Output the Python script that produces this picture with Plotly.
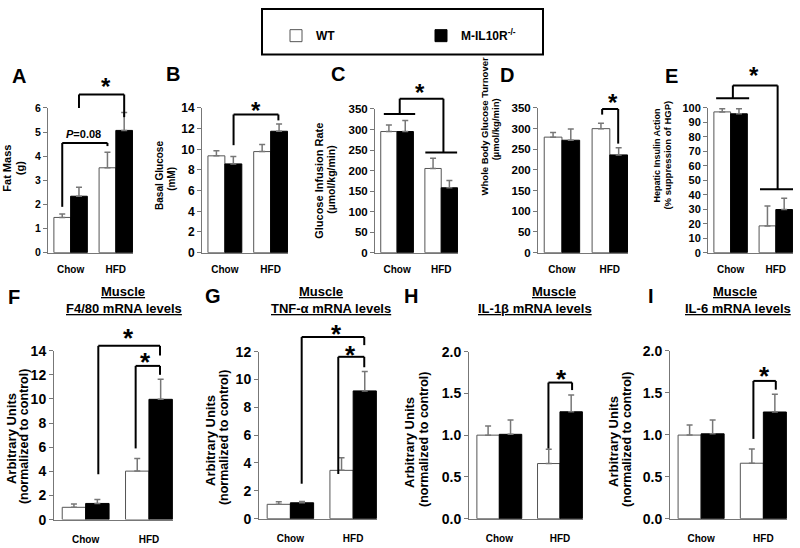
import plotly.graph_objects as go

W, H = 800, 548
FONT = "Liberation Sans, Arial, sans-serif"

groups = ["Chow", "HFD"]
wt_name = "WT"
ko_name = "M-IL10R<sup>-/-</sup>"

# A: fat mass (g)
fat_wt = [1.46, 3.52]
fat_wt_err = [0.14, 0.64]
fat_ko = [2.34, 5.07]
fat_ko_err = [0.37, 0.74]
# B: basal glucose (mM)
glu_wt = [9.37, 9.78]
glu_wt_err = [0.50, 0.69]
glu_ko = [8.59, 11.75]
glu_ko_err = [0.72, 0.69]
# C: glucose infusion rate
gir_wt = [295, 205]
gir_wt_err = [16, 25]
gir_ko = [295, 158]
gir_ko_err = [27, 18]
# D: whole body glucose turnover
wbt_wt = [279.5, 300]
wbt_wt_err = [11, 13]
wbt_ko = [272, 236.5]
wbt_ko_err = [27, 17.5]
# E: hepatic insulin action
hia_wt = [97.3, 18.5]
hia_wt_err = [2.2, 13.8]
hia_ko = [96, 29.8]
hia_ko_err = [3.5, 7.8]
# F: F4/80 mRNA
f480_wt = [1.02, 4.02]
f480_wt_err = [0.27, 1.05]
f480_ko = [1.34, 9.97]
f480_ko_err = [0.32, 1.67]
# G: TNF-a mRNA
tnf_wt = [1.03, 3.47]
tnf_wt_err = [0.18, 0.91]
tnf_ko = [1.14, 9.18]
tnf_ko_err = [0.10, 1.40]
# H: IL-1b mRNA
il1b_wt = [1.00, 0.66]
il1b_wt_err = [0.11, 0.17]
il1b_ko = [1.01, 1.28]
il1b_ko_err = [0.17, 0.20]
# I: IL-6 mRNA
il6_wt = [0.995, 0.66]
il6_wt_err = [0.12, 0.17]
il6_ko = [1.01, 1.27]
il6_ko_err = [0.165, 0.21]

XR = [-0.5, 1.38]

# key, data, ymax, dtick, fmt, box px (x0, x1, ytop, ybottom), tick font sizes
panels = [
    dict(key="A", d=(fat_wt, fat_wt_err, fat_ko, fat_ko_err), ymax=6, dtick=1, fmt="", box=(48, 133, 103, 252), ts=10.5, xs=10, so=7),
    dict(key="B", d=(glu_wt, glu_wt_err, glu_ko, glu_ko_err), ymax=14, dtick=2, fmt="", box=(202, 288, 103, 252), ts=12, xs=10, so=7),
    dict(key="C", d=(gir_wt, gir_wt_err, gir_ko, gir_ko_err), ymax=350, dtick=50, fmt="", box=(375, 458, 104, 252), ts=11.5, xs=10, so=7),
    dict(key="D", d=(wbt_wt, wbt_wt_err, wbt_ko, wbt_ko_err), ymax=350, dtick=50, fmt="", box=(538, 628, 103, 252), ts=11.5, xs=10, so=7),
    dict(key="E", d=(hia_wt, hia_wt_err, hia_ko, hia_ko_err), ymax=100, dtick=10, fmt="", box=(708, 793, 103, 252), ts=11, xs=10, so=7),
    dict(key="F", d=(f480_wt, f480_wt_err, f480_ko, f480_ko_err), ymax=14, dtick=2, fmt="", box=(54, 173, 353, 527), ts=14, xs=10, so=10),
    dict(key="G", d=(tnf_wt, tnf_wt_err, tnf_ko, tnf_ko_err), ymax=12, dtick=2, fmt="", box=(259, 377, 354, 526), ts=14, xs=10, so=10),
    dict(key="H", d=(il1b_wt, il1b_wt_err, il1b_ko, il1b_ko_err), ymax=2, dtick=0.5, fmt=".1f", box=(469, 583, 354, 526), ts=14, xs=10, so=10),
    dict(key="I", d=(il6_wt, il6_wt_err, il6_ko, il6_ko_err), ymax=2, dtick=0.5, fmt=".1f", box=(670, 787, 353, 526), ts=14, xs=10, so=10),
]
PIDX = {p["key"]: i for i, p in enumerate(panels)}

# y-axis titles: text, center px (x, y), size
ytitles = [
    ("Fat Mass", 7.5, 165, 11), ("(g)", 20, 165, 11),
    ("Basal Glucose", 160, 173, 10), ("(mM)", 172, 176, 10),
    ("Glucose Infusion Rate", 319, 178, 11), ("(µmol/kg/min)", 331, 177, 10.5),
    ("Whole Body Glucose Turnover", 484, 122, 9.5), ("(µmol/kg/min)", 495, 125, 9.5),
    ("Hepatic Insulin Action", 657, 152, 9), ("(% suppression of HGP)", 668, 152, 9.5),
    ("Arbitrary Units", 11, 444, 13), ("(normalized to control)", 24, 442, 12.5),
    ("Arbitrary Units", 211, 446, 13), ("(normalized to control)", 224, 443, 12.5),
    ("Arbitrary Units", 410, 447, 13), ("(normalized to control)", 424, 445, 12.5),
    ("Arbitrary Units", 614, 447, 13), ("(normalized to control)", 627, 445, 12.5),
]
# panel letters
letters = [("A", 18.5, 70), ("B", 173, 68), ("C", 338, 68), ("D", 507, 69), ("E", 671, 70),
           ("F", 14, 298), ("G", 213, 297), ("H", 411, 297), ("I", 651, 297)]
# bottom-row titles
mtitles = [("Muscle", 123, 292), ("F4/80 mRNA levels", 124, 310),
           ("Muscle", 321, 292), ("TNF-α mRNA levels", 331, 310),
           ("Muscle", 554, 292), ("IL-1β mRNA levels", 535, 310),
           ("Muscle", 735, 292), ("IL-6 mRNA levels", 738, 310)]

# simple brackets: panel, x left, x right, y left bottom, y top, y right bottom
brackets = [
    ("A", -0.185, 0.815, 1.9, 4.55, 4.42),
    ("A", 0.185, 1.185, 6.0, 6.56, 5.62),
    ("B", 0.19, 1.17, 10.4, 13.37, 12.8),
    ("D", 0.84, 1.175, 334, 347.6, 263.8),
    ("F", 0.2, 1.175, 3.76, 14.4, 13.6),
    ("F", 0.79, 1.175, 5.9, 12.74, 12.0),
    ("G", 0.18, 1.177, 2.51, 13.05, 12.47),
    ("G", 0.763, 1.177, 3.21, 11.63, 10.88),
    ("H", 0.81, 1.2, 0.84, 1.63, 1.54),
    ("I", 0.84, 1.2, 0.95, 1.64, 1.536),
]
# group brackets: panel, chow line (x0, x1, y), hfd line (x0, x1, y), connector (xl, xr, ytop)
gbrackets = [
    ("C", (-0.3, 0.41, 338), (0.64, 1.36, 244), (0.06, 1.05, 375)),
    ("E", (-0.32, 0.41, 106.7), (0.65, 1.38, 43.9), (0.05, 1.04, 115.6)),
]
# labels on brackets: panel, x, y, text, size
blabels = [
    ("A", 0.28, 4.93, "<i>P</i>=0.08", 11),
    ("A", 0.78, 7.1, "*", 24), ("B", 0.67, 14.3, "*", 24), ("C", 0.53, 403, "*", 24),
    ("D", 1.07, 377, "*", 24), ("E", 0.52, 126, "*", 24),
    ("F", 0.675, 15.56, "*", 26), ("F", 0.95, 13.55, "*", 26),
    ("G", 0.74, 13.68, "*", 26), ("G", 0.965, 12.16, "*", 26),
    ("H", 1.02, 1.745, "*", 26), ("I", 1.016, 1.77, "*", 26),
]


def to_paper(key, xv, yv):
    p = panels[PIDX[key]]
    x0, x1, yt, yb = p["box"]
    fx = (xv - XR[0]) / (XR[1] - XR[0])
    fy = yv / p["ymax"]
    return (x0 + fx * (x1 - x0)) / W, 1 - (yb - fy * (yb - yt)) / H


fig = go.Figure()
layout = dict(
    width=W, height=H, margin=dict(l=0, r=0, t=0, b=0),
    paper_bgcolor="white", plot_bgcolor="white",
    barmode="group", bargap=0.26, bargroupgap=0,
    font=dict(family=FONT, color="black"),
    showlegend=True,
    legend=dict(orientation="h", x=276 / W, xanchor="left", y=1 - 28.5 / H, yanchor="middle",
                font=dict(size=12, family=FONT, color="black", weight="bold"),
                entrywidth=100, entrywidthmode="pixels", bgcolor="rgba(0,0,0,0)",
                borderwidth=0, traceorder="normal"),
)
shapes = []
annotations = []

for i, p in enumerate(panels):
    n = "" if i == 0 else str(i + 1)
    wt, wte, ko, koe = p["d"]
    x0, x1, yt, yb = p["box"]
    fig.add_trace(go.Bar(
        x=groups, y=wt, name=wt_name, legendgroup="wt", showlegend=(i == 0),
        marker=dict(color="white", line=dict(color="#555", width=1)),
        error_y=dict(type="data", array=wte, arrayminus=[0] * len(wte), symmetric=False,
                     color="#777", thickness=1.5, width=3),
        xaxis="x" + n, yaxis="y" + n, hoverinfo="skip"))
    fig.add_trace(go.Bar(
        x=groups, y=ko, name=ko_name, legendgroup="ko", showlegend=(i == 0),
        marker=dict(color="black", line=dict(color="black", width=1)),
        error_y=dict(type="data", array=koe, arrayminus=[0] * len(koe), symmetric=False,
                     color="#777", thickness=1.5, width=3),
        xaxis="x" + n, yaxis="y" + n, hoverinfo="skip"))
    layout["xaxis" + n] = dict(
        domain=[x0 / W, x1 / W], range=XR, anchor="y" + n, showline=True, linecolor="#777",
        linewidth=1, ticks="", showgrid=False, zeroline=False, fixedrange=True,
        tickfont=dict(size=p["xs"], family=FONT, color="black", weight="bold"),
        ticklabelstandoff=p["so"])
    layout["yaxis" + n] = dict(
        domain=[1 - yb / H, 1 - yt / H], range=[0, p["ymax"]], anchor="x" + n, dtick=p["dtick"],
        tick0=0, tickformat=p["fmt"], showline=True, linecolor="#777", linewidth=1,
        ticks="outside", ticklen=4, tickcolor="#777", showgrid=False, zeroline=False,
        fixedrange=True, tickfont=dict(size=p["ts"], family=FONT, color="black", weight="bold"))

for text, x, y, s in ytitles:
    annotations.append(dict(text=text, x=x / W, y=1 - y / H, xref="paper", yref="paper",
                            textangle=-90, showarrow=False, xanchor="center", yanchor="middle",
                            font=dict(size=s, family=FONT, color="black", weight="bold")))
for text, x, y in letters:
    annotations.append(dict(text=text, x=x / W, y=1 - y / H, xref="paper", yref="paper",
                            showarrow=False, xanchor="center", yanchor="middle",
                            font=dict(size=20, family=FONT, color="black", weight="bold")))
for text, x, y in mtitles:
    annotations.append(dict(text="<u>" + text + "</u>", x=x / W, y=1 - y / H, xref="paper",
                            yref="paper", showarrow=False, xanchor="center", yanchor="middle",
                            font=dict(size=13, family=FONT, color="black", weight="bold")))


def seg(key, xa, ya, xb, yb_):
    pa = to_paper(key, xa, ya)
    pb = to_paper(key, xb, yb_)
    shapes.append(dict(type="line", xref="paper", yref="paper", x0=pa[0], y0=pa[1],
                       x1=pb[0], y1=pb[1], line=dict(color="black", width=2)))


for key, xl, xr, yl, ytop, yr in brackets:
    seg(key, xl, yl, xl, ytop)
    seg(key, xl, ytop, xr, ytop)
    seg(key, xr, ytop, xr, yr)

for key, cl, hl, con in gbrackets:
    seg(key, cl[0], cl[2], cl[1], cl[2])
    seg(key, hl[0], hl[2], hl[1], hl[2])
    seg(key, con[0], cl[2], con[0], con[2])
    seg(key, con[0], con[2], con[1], con[2])
    seg(key, con[1], con[2], con[1], hl[2])

for key, x, y, text, s in blabels:
    px, py = to_paper(key, x, y)
    annotations.append(dict(text=text, x=px, y=py, xref="paper", yref="paper", showarrow=False,
                            xanchor="center", yanchor="middle",
                            yshift=(-0.22 * s if text == "*" else 0),
                            font=dict(size=s, family=FONT, color="black", weight="bold")))

# legend frame
shapes.append(dict(type="rect", xref="paper", yref="paper", x0=262 / W, x1=543 / W,
                   y0=1 - 48 / H, y1=1 - 1 / H, line=dict(color="black", width=2),
                   fillcolor="rgba(0,0,0,0)"))

layout["shapes"] = shapes
layout["annotations"] = annotations
fig.update_layout(**layout)
fig.write_html("out.html", config={"displayModeBar": False},
               post_script="document.body.style.margin='0px';")
